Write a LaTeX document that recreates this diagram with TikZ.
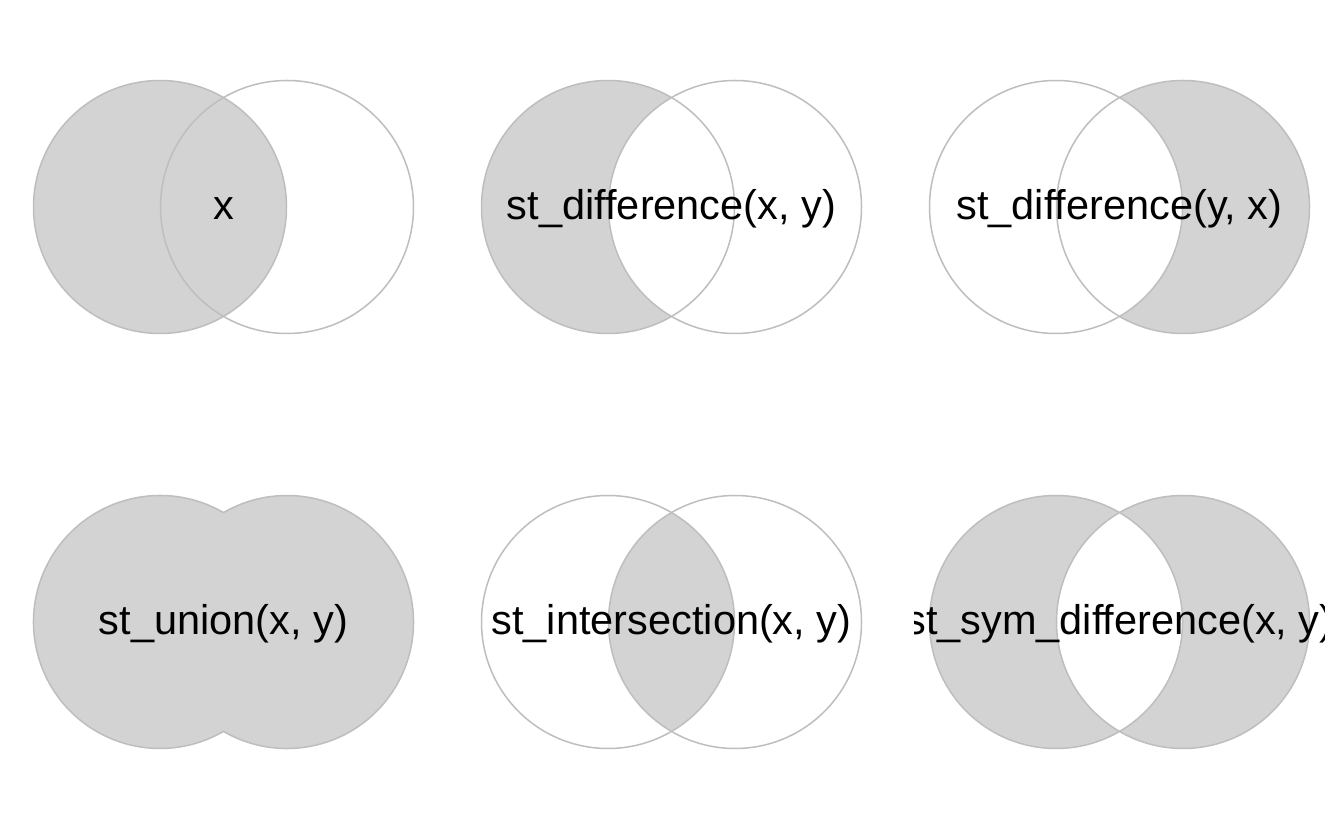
\documentclass[tikz,border=0pt]{standalone}
\usepackage{fontspec}
\setmainfont{Liberation Sans}[Ligatures=NoCommon]
\definecolor{fillg}{HTML}{D3D3D3}
\definecolor{lineg}{HTML}{BEBEBE}
\begin{document}
\begin{tikzpicture}[x=1pt,y=1pt,
  circ/.style={draw=lineg, line width=1.5pt},
  lbl/.style={anchor=base, inner sep=0pt, font=\fontsize{41.5}{48}\selectfont}]
\def\r{126.5}
\fill[white] (0,0) rectangle (1344,830);
\useasboundingbox (0,0) rectangle (1344,830);
% Panel 1: x
\fill[fillg] (160,623) circle (\r);
\draw[circ] (160,623) circle (\r);
\draw[circ] (287,623) circle (\r);
\begin{scope}\clip (18.5,0) rectangle (428.5,830);
\node[lbl] (t1) at (223.5,610.5) {x};
\end{scope}
% Panel 2: st_difference(x, y)
\fill[fillg] (608,623) circle (\r);
\begin{scope}\clip (735,623) circle (\r); \fill[white] (608,623) circle (\r); \end{scope}
\draw[circ] (608,623) circle (\r);
\draw[circ] (735,623) circle (\r);
\begin{scope}\clip (466.5,0) rectangle (876.5,830);
\node[lbl] (t2) at (671.5,610.5) {st\_difference(x, y)};
\end{scope}
% Panel 3: st_difference(y, x)
\fill[fillg] (1183,623) circle (\r);
\begin{scope}\clip (1056,623) circle (\r); \fill[white] (1183,623) circle (\r); \end{scope}
\draw[circ] (1056,623) circle (\r);
\draw[circ] (1183,623) circle (\r);
\begin{scope}\clip (914.5,0) rectangle (1324.5,830);
\node[lbl] (t3) at (1119.5,610.5) {st\_difference(y, x)};
\end{scope}
% Panel 4: st_union(x, y)
\fill[fillg] (160,208) circle (\r);
\fill[fillg] (287,208) circle (\r);
\draw[circ] (160,208) ++(59.87:\r) arc[start angle=59.87, end angle=300.13, radius=\r]
  arc[start angle=239.87, end angle=480.13, radius=\r] -- cycle;
\begin{scope}\clip (18.5,0) rectangle (428.5,830);
\node[lbl] (t4) at (223.5,195.5) {st\_union(x, y)};
\end{scope}
% Panel 5: st_intersection(x, y)
\begin{scope}\clip (608,208) circle (\r); \fill[fillg] (735,208) circle (\r); \end{scope}
\draw[circ] (608,208) circle (\r);
\draw[circ] (735,208) circle (\r);
\begin{scope}\clip (466.5,0) rectangle (876.5,830);
\node[lbl] (t5) at (671.5,195.5) {st\_intersection(x, y)};
\end{scope}
% Panel 6: st_sym_difference(x, y)
\fill[fillg, even odd rule] (1056,208) circle (\r) (1183,208) circle (\r);
\draw[circ] (1056,208) circle (\r);
\draw[circ] (1183,208) circle (\r);
\begin{scope}\clip (914.5,0) rectangle (1324.5,830);
\node[lbl] (t6) at (1119.5,195.5) {st\_sym\_difference(x, y)};
\end{scope}
\end{tikzpicture}
\end{document}
